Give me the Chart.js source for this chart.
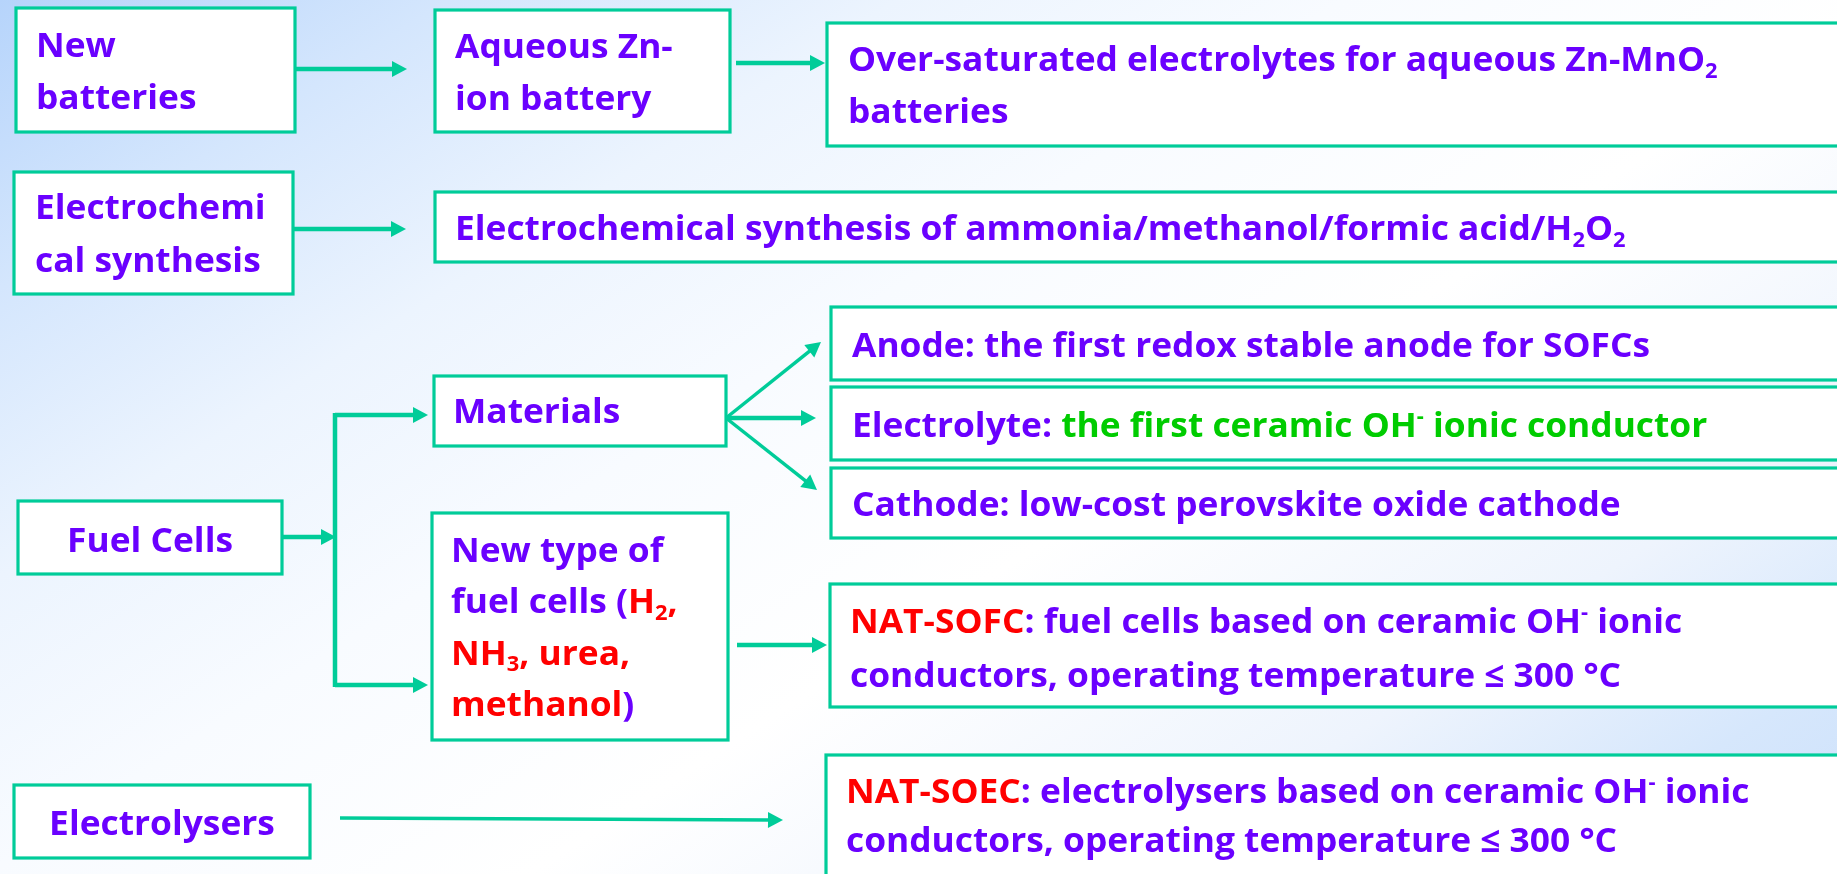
<!DOCTYPE html>
<html><head><meta charset="utf-8">
<script src="https://cdn.jsdelivr.net/npm/chart.js@4.4.1/dist/chart.umd.min.js"></script>
<style>html,body{margin:0;padding:0;overflow:hidden;background:#fff}#wrap{width:1837px;height:874px;position:relative}</style>
</head><body><div id="wrap"><canvas id="c"></canvas></div>
<script>
// ---- Diagram content (text of each node, as rich segments [text, colourKey, position]) ----
const nodeNames = ["New batteries","Aqueous Zn-ion battery","Over-saturated electrolytes","Electrochemical synthesis","Electrochemical synthesis products","Fuel Cells","Materials","New type of fuel cells","Anode","Electrolyte","Cathode","NAT-SOFC","Electrolysers","NAT-SOEC"];
const nodeLines = [
  [[["New","p"]],[["batteries","p"]]],
  [[["Aqueous Zn-","p"]],[["ion battery","p"]]],
  [[["Over-saturated electrolytes for aqueous Zn-MnO","p"],["2","p","sub"]],[["batteries","p"]]],
  [[["Electrochemi","p"]],[["cal synthesis","p"]]],
  [[["Electrochemical synthesis of ammonia/methanol/formic acid/H","p"],["2","p","sub"],["O","p"],["2","p","sub"]]],
  [[["Fuel Cells","p"]]],
  [[["Materials","p"]]],
  [[["New type of","p"]],[["fuel cells (","p"],["H","r"],["2","r","sub"],[",","r"]],[["NH","r"],["3","r","sub"],[", urea,","r"]],[["methanol","r"],[")","p"]]],
  [[["Anode: the first redox stable anode for SOFCs","p"]]],
  [[["Electrolyte: ","p"],["the first ceramic OH","g"],["-","g","sup"],[" ionic conductor","g"]]],
  [[["Cathode: low-cost perovskite oxide cathode","p"]]],
  [[["NAT-SOFC","r"],[": fuel cells based on ceramic OH","p"],["-","p","sup"],[" ionic","p"]],[["conductors, operating temperature \u2264 300 \u00B0C","p"]]],
  [[["Electrolysers","p"]]],
  [[["NAT-SOEC","r"],[": electrolysers based on ceramic OH","p"],["-","p","sup"],[" ionic","p"]],[["conductors, operating temperature \u2264 300 \u00B0C","p"]]]
];
// connections: [from node, to node]
const edgeFrom = ["New batteries","Aqueous Zn-ion battery","Electrochemical synthesis","Fuel Cells","Fuel Cells","Fuel Cells","Fuel Cells","Materials","Materials","Materials","New type of fuel cells","Electrolysers"];
const edgeTo   = ["Aqueous Zn-ion battery","Over-saturated electrolytes","Electrochemical synthesis products","(branch)","(trunk)","Materials","New type of fuel cells","Anode","Electrolyte","Cathode","NAT-SOFC","NAT-SOEC"];

// ---- Layout (diagram units, axis 0..1837 x 0..874) ----
const boxLayout = [ // x, y, w, h, textX, firstBaseline, lineGap, align
  [16,8,279,124, 36,57,52,'left'],
  [435,10,295,122, 455,58,52,'left'],
  [827,23,1040,123, 848,71,52,'left'],
  [14,172,279,122, 35,219,53,'left'],
  [435,192,1432,70, 455,240,0,'left'],
  [18,501,264,73, 150,552,0,'center'],
  [434,376,292,70, 453,423,0,'left'],
  [432,513,296,227, 451,562,51.3,'left'],
  [831,307,1040,73, 852,357,0,'left'],
  [831,387,1040,73, 852,437,0,'left'],
  [831,468,1040,70, 852,516,0,'left'],
  [830,584,1040,123, 850,633,54,'left'],
  [14,785,296,73, 162,835,0,'center'],
  [826,755,1040,160, 846,803,49,'left']
];
const edgeLayout = [ // x1,y1,x2,y2, arrowhead
  [295,69,407,69,1],[736,63,825,63,1],[293,229,406,229,1],
  [282,537,336,537,1],[335,413,335,687,0],[335,415,428,415,1],[335,685,428,685,1],
  [726,418,821,342,1],[726,418,816,418,1],[726,418,817,490,1],
  [737,645,827,645,1],[340,818,783,820,1]
];
const colors = {p:'#6a00ff', r:'#ff0000', g:'#00cc00'};
const TEAL = '#00cc99';
const FS = 34, FONT = "'Open Sans'";
// horizontal text scale calibrated on the Anode line width (reference ≈ 798 units)
const CAL_TEXT = "Anode: the first redox stable anode for SOFCs", CAL_W = 798;
let SX = 1;

const diagramPlugin = {
  id:'diagram',
  beforeDraw(chart){
    const ctx = chart.ctx, W = chart.width, H = chart.height;
    const g = ctx.createLinearGradient(0,0,W*936/1837,H*1456/874);
    g.addColorStop(0,'#b6d4fb'); g.addColorStop(0.14,'#d4e6fd'); g.addColorStop(0.28,'#ecf4fe');
    g.addColorStop(0.42,'#f8fbff'); g.addColorStop(0.59,'#ffffff'); g.addColorStop(0.78,'#eef4fd');
    g.addColorStop(0.9,'#d6e7fc'); g.addColorStop(1,'#cce0fb');
    ctx.save(); ctx.fillStyle = g; ctx.fillRect(0,0,W,H); ctx.restore();
    const xs = chart.scales.x, ys = chart.scales.y;
    ctx.save();
    boxLayout.forEach(b=>{
      const x0 = xs.getPixelForValue(b[0]), y0 = ys.getPixelForValue(b[1]);
      const x1 = xs.getPixelForValue(b[0]+b[2]), y1 = ys.getPixelForValue(b[1]+b[3]);
      ctx.fillStyle = '#ffffff'; ctx.fillRect(x0,y0,x1-x0,y1-y0);
      ctx.strokeStyle = TEAL; ctx.lineWidth = 3.2; ctx.strokeRect(x0,y0,x1-x0,y1-y0);
    });
    ctx.restore();
  },
  afterDatasetsDraw(chart){
    const ctx = chart.ctx, xs = chart.scales.x, ys = chart.scales.y;
    ctx.save();
    ctx.font = `bold ${FS}px ${FONT}`;
    SX = (xs.getPixelForValue(CAL_W)-xs.getPixelForValue(0)) / ctx.measureText(CAL_TEXT).width;
    // arrowheads
    edgeLayout.forEach(e=>{
      if(!e[4]) return;
      const x1 = xs.getPixelForValue(e[0]), y1 = ys.getPixelForValue(e[1]);
      const x2 = xs.getPixelForValue(e[2]), y2 = ys.getPixelForValue(e[3]);
      const a = Math.atan2(y2-y1,x2-x1), L = 15, Wd = 8;
      ctx.fillStyle = TEAL; ctx.beginPath();
      ctx.moveTo(x2,y2);
      ctx.lineTo(x2-L*Math.cos(a)+Wd*Math.sin(a), y2-L*Math.sin(a)-Wd*Math.cos(a));
      ctx.lineTo(x2-L*Math.cos(a)-Wd*Math.sin(a), y2-L*Math.sin(a)+Wd*Math.cos(a));
      ctx.closePath(); ctx.fill();
    });
    // texts
    ctx.textBaseline = 'alphabetic'; ctx.textAlign = 'left';
    nodeLines.forEach((lines,i)=>{
      const b = boxLayout[i];
      lines.forEach((segs,j)=>{
        const bx = xs.getPixelForValue(b[4]);
        const by = ys.getPixelForValue(b[5]+j*b[6]);
        let total = 0;
        segs.forEach(s=>{ const fs = s[2]?FS*0.62:FS; ctx.font = `bold ${fs}px ${FONT}`; total += ctx.measureText(s[0]).width*SX; });
        let cx = b[7]==='center' ? bx-total/2 : bx;
        segs.forEach(s=>{
          const fs = s[2]?FS*0.62:FS;
          ctx.font = `bold ${fs}px ${FONT}`;
          ctx.fillStyle = colors[s[1]];
          const dy = s[2]==='sub' ? FS*0.2 : s[2]==='sup' ? -FS*0.42 : 0;
          ctx.save(); ctx.translate(cx, by+dy); ctx.scale(SX,1); ctx.fillText(s[0],0,0); ctx.restore();
          cx += ctx.measureText(s[0]).width*SX;
        });
      });
    });
    ctx.restore();
  }
};

new Chart(document.getElementById('c'), {
  type:'scatter',
  data:{ datasets: edgeLayout.map((e,i)=>{
    const a = Math.atan2(e[3]-e[1], e[2]-e[0]);
    const cut = e[4] ? 13 : 0;
    return {
      label: edgeFrom[i]+' \u2192 '+edgeTo[i],
      data:[{x:e[0],y:e[1]},{x:e[2]-cut*Math.cos(a),y:e[3]-cut*Math.sin(a)}],
      showLine:true, borderColor:TEAL, borderWidth:(e[1]!==e[3] && e[0]!==e[2]) ? 3.5 : 4.5,
      pointRadius:0, pointHoverRadius:0, clip:false, tension:0
    };
  })},
  options:{
    responsive:true, maintainAspectRatio:false, animation:false,
    layout:{padding:0},
    events:[],
    plugins:{legend:{display:false}, tooltip:{enabled:false}},
    scales:{
      x:{type:'linear', min:0, max:1837, display:false},
      y:{type:'linear', min:0, max:874, reverse:true, display:false}
    }
  },
  plugins:[diagramPlugin]
});
</script>
</body></html>
